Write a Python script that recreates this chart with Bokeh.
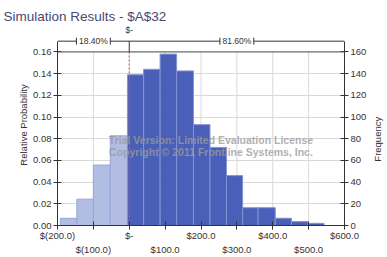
import math
from bokeh.plotting import figure
from bokeh.layouts import row
from bokeh.core.properties import value
from bokeh.models import (Range1d, LinearAxis, FixedTicker, PrintfTickFormatter,
                          Span, Label, Whisker, TeeHead, ColumnDataSource, Title)
from bokeh.embed import file_html
from bokeh.resources import INLINE

# ---------------- data ----------------
title_text = "Simulation Results - $A$32"
y_title = "Relative Probability"
y2_title = "Frequency"
bin_edges = [-192, -146, -100, -53, -5, 40, 86, 132, 179, 225, 271, 316, 359, 407, 452, 498, 543]
rel_prob = [0.0066, 0.0243, 0.0557, 0.0827,
            0.139, 0.144, 0.158, 0.1425, 0.093, 0.072, 0.046,
            0.0164, 0.0164, 0.0067, 0.0036, 0.002]
cutoff = 0
pct_below = "18.40%"
pct_above = "81.60%"
cutoff_label = "$-"
x_ticks = [-200, -100, 0, 100, 200, 300, 400, 500, 600]
x_tick_labels = ["$(200.0)", "$(100.0)", "$-", "$100.0", "$200.0",
                 "$300.0", "$400.0", "$500.0", "$600.0"]
prob_ticks = [0.0, 0.02, 0.04, 0.06, 0.08, 0.10, 0.12, 0.14, 0.16]
freq_ticks = [0, 20, 40, 60, 80, 100, 120, 140, 160]
watermark = ["Trial Version: Limited Evaluation License",
             "Copyright \u00a9 2011 Frontline Systems, Inc."]

# ---------------- layout constants ----------------
W, H = 387, 257
SIDE_W = 18                            # narrow strip on the right for "Frequency"
MAIN_W = W - SIDE_W
FL, FR, FT, FB = 57, 345, 52, 229      # where x -200/600 and prob 0.16/0 sit
TOP = 24                               # real top of the frame (room for bracket)
X0, X1 = x_ticks[0], x_ticks[-1]
Y0, Y1 = prob_ticks[0], prob_ticks[-1]
F1 = freq_ticks[-1]
K = F1 / Y1
FONT = "Liberation Sans"
TXT = "#333333"


def dx(px):
    return X0 + (px - FL) * (X1 - X0) / (FR - FL)


def dy(py):
    return Y0 + (FB - py) * (Y1 - Y0) / (FB - FT)


YTOP = dy(TOP)
by = dy(41)          # bracket line level

p = figure(width=MAIN_W, height=H, x_range=Range1d(X0, X1), y_range=Range1d(Y0, YTOP),
           output_backend="svg", toolbar_location=None,
           min_border_left=FL, min_border_right=MAIN_W - FR,
           min_border_top=TOP, min_border_bottom=H - FB)
p.background_fill_color = "white"
p.border_fill_color = "white"
p.outline_line_color = None

p.extra_y_ranges = {"freq": Range1d(Y0 * K, YTOP * K)}

# title
p.title.text = title_text
p.title.align = "left"
p.title.offset = 3 - FL
p.title.text_font = FONT
p.title.text_font_size = "13.5px"
p.title.text_font_style = "normal"
p.title.text_color = "#4a4870"
p.title.standoff = 2

# vertical grid lines only over the plotting area
p.xgrid.visible = False
p.segment(x0=x_ticks, y0=Y0, x1=x_ticks, y1=Y1, line_color="#d9d9d9", line_width=1)
p.ygrid.ticker = FixedTicker(ticks=prob_ticks)
p.ygrid.grid_line_color = "#d9d9d9"

# bars
lefts = bin_edges[:-1]
rights = bin_edges[1:]
fills = ["#b1bde3" if (l + r) / 2 < cutoff else "#4a60b8" for l, r in zip(lefts, rights)]
lines = ["#97a5d8" if (l + r) / 2 < cutoff else "#8394d4" for l, r in zip(lefts, rights)]
src = ColumnDataSource(dict(left=lefts, right=rights, top=rel_prob, fill=fills, line=lines))
p.quad(left="left", right="right", bottom=0, top="top", fill_color="fill",
       line_color="line", line_width=1, source=src)

# cutoff line
p.segment(x0=[cutoff], y0=[Y0], x1=[cutoff], y1=[Y1], line_color="#e0553a",
          line_dash="2 2", line_width=1)

# top border of the plotting area
p.add_layout(Span(location=Y1, dimension="width", line_color="#555555", line_width=1))


def style_axis(ax):
    ax.axis_line_color = "#333333"
    ax.major_tick_line_color = "#333333"
    ax.major_tick_in = 4
    ax.major_tick_out = 4
    ax.minor_tick_line_color = None
    ax.major_label_text_font = FONT
    ax.major_label_text_font_size = "9.5px"
    ax.major_label_text_color = TXT


# left axis
ya = p.yaxis[0]
ya.ticker = FixedTicker(ticks=prob_ticks)
ya.formatter = PrintfTickFormatter(format="%.2f")
ya.bounds = (Y0, by)
style_axis(ya)
ya.major_label_standoff = 2

p.add_layout(Title(text=y_title, align="center", offset=-11, standoff=4,
                   text_font=FONT, text_font_size="9.5px", text_font_style="normal",
                   text_color=TXT), "left")

# right axis
ra = LinearAxis(y_range_name="freq", ticker=FixedTicker(ticks=freq_ticks))
ra.bounds = (Y0 * K, by * K)
style_axis(ra)
ra.major_label_standoff = 2
p.add_layout(ra, "right")

# bottom axes (staggered labels)
xa = p.xaxis[0]
xa.ticker = FixedTicker(ticks=x_ticks)
xa.major_label_overrides = {t: (lab if i % 2 == 0 else "")
                            for i, (t, lab) in enumerate(zip(x_ticks, x_tick_labels))}
style_axis(xa)
xa.major_label_standoff = 0

odd_ticks = [t for i, t in enumerate(x_ticks) if i % 2 == 1]
xb = LinearAxis(ticker=FixedTicker(ticks=odd_ticks))
xb.major_label_overrides = {t: lab for i, (t, lab) in enumerate(zip(x_ticks, x_tick_labels))
                            if i % 2 == 1}
style_axis(xb)
xb.axis_line_color = None
xb.major_tick_line_color = None
xb.major_tick_in = 0
xb.major_tick_out = 0
xb.major_label_standoff = 0
p.add_layout(xb, "below")

# top bracket
gap = 17 * (X1 - X0) / (FR - FL)
lc = (X0 + cutoff) / 2
rc = (cutoff + X1) / 2
BR = "#333333"
wa = ColumnDataSource(dict(base=[by, by], lower=[X0, cutoff], upper=[lc - gap, rc - gap]))
wb = ColumnDataSource(dict(base=[by, by], lower=[lc + gap, rc + gap], upper=[cutoff, X1]))
wv = ColumnDataSource(dict(base=[cutoff], lower=[Y1], upper=[by]))
p.add_layout(Whisker(source=wa, base="base", lower="lower", upper="upper", dimension="width",
                     lower_head=None, upper_head=TeeHead(size=7, line_color=BR),
                     line_color=BR, level="overlay"))
p.add_layout(Whisker(source=wb, base="base", lower="lower", upper="upper", dimension="width",
                     upper_head=None, lower_head=TeeHead(size=7, line_color=BR),
                     line_color=BR, level="overlay"))
p.add_layout(Whisker(source=wv, base="base", lower="lower", upper="upper", dimension="height",
                     lower_head=None, upper_head=None, line_color=BR, level="overlay"))

for xx, tt in [(lc, pct_below), (rc, pct_above)]:
    p.add_layout(Label(x=xx, y=by, text=tt, text_align="center", text_baseline="middle",
                       text_font=FONT, text_font_size="8.5px", text_color=TXT))
p.add_layout(Label(x=cutoff, y=dy(30), text=cutoff_label, text_align="center",
                   text_baseline="middle", text_font=FONT, text_font_size="8.5px",
                   text_color=TXT))

# watermark
for py, tt in [(141.7, watermark[0]), (154, watermark[1])]:
    p.add_layout(Label(x=dx(211), y=dy(py), text=tt, text_align="center",
                       text_baseline="middle", text_font=FONT, text_font_size="10.5px",
                       text_font_style="bold", text_color="#9b9b9b", text_alpha=0.8))

# narrow strip holding the right axis title (reads bottom-to-top)
s = figure(width=SIDE_W, height=H, x_range=Range1d(0, SIDE_W), y_range=Range1d(Y0, YTOP),
           output_backend="svg", toolbar_location=None,
           x_axis_location=None, y_axis_location=None,
           min_border_left=0, min_border_right=0,
           min_border_top=TOP, min_border_bottom=H - FB)
s.grid.visible = False
s.outline_line_color = None
s.background_fill_color = "white"
s.border_fill_color = "white"
s.text(x=[8], y=[dy(141)], text=[y2_title], angle=math.pi / 2,
       text_align="center", text_baseline="middle", text_font=value(FONT),
       text_font_size="9.5px", text_color=TXT)

layout = row(p, s, spacing=0)
open("out.html", "w").write(file_html(layout, INLINE))
